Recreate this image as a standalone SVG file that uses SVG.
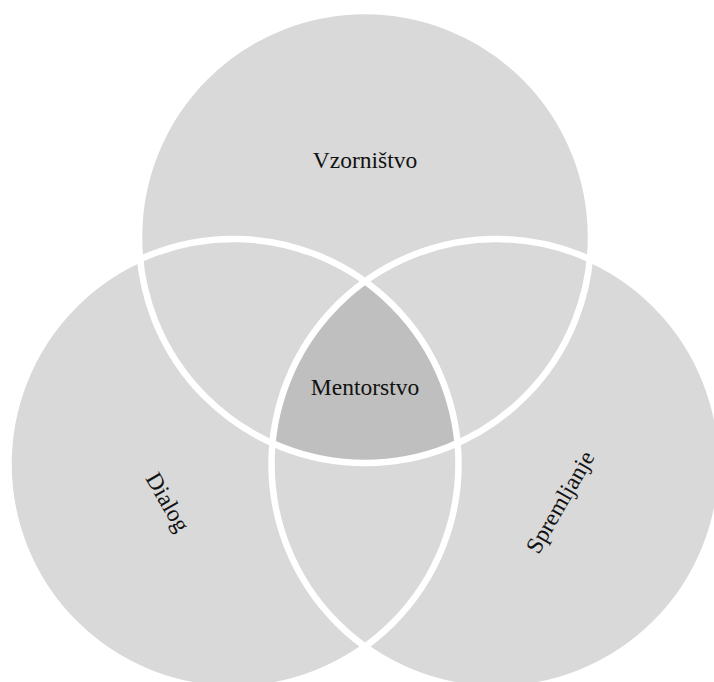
<svg xmlns="http://www.w3.org/2000/svg" width="714" height="682" viewBox="0 0 714 682">
  <style>
    .fill { fill: #d9d9d9; stroke: none; }
    .core { fill: #bfbfbf; stroke: none; }
    .outline { fill: none; stroke: #ffffff; stroke-width: 6.5; }
    .label { font-family: "Liberation Serif", "Times New Roman", serif; font-size: 23.5px; fill: #111111; text-anchor: middle; }
  </style>
  <rect width="714" height="682" fill="#ffffff"/>
  <g id="node-vzornistvo">
    <circle class="fill" cx="365" cy="237" r="226"/>
  </g>
  <g id="node-dialog">
    <circle class="fill" cx="233.5" cy="464" r="225"/>
  </g>
  <g id="node-spremljanje">
    <circle class="fill" cx="496.5" cy="464" r="225"/>
  </g>
  <g id="node-mentorstvo">
    <path class="core" d="M365,281.4 A225,225 0 0 0 272.5,443.2 A226,226 0 0 0 457.5,443.2 A225,225 0 0 0 365,281.4 Z"/>
  </g>
  <g id="outlines">
    <circle class="outline" cx="365" cy="237" r="226"/>
    <circle class="outline" cx="233.5" cy="464" r="225"/>
    <circle class="outline" cx="496.5" cy="464" r="225"/>
  </g>
  <g id="labels">
    <text class="label" x="365" y="168">Vzorništvo</text>
    <text class="label" x="365" y="395">Mentorstvo</text>
    <text class="label" transform="translate(168,502) rotate(60)" x="0" y="8">Dialog</text>
    <text class="label" transform="translate(560,502) rotate(-60)" x="0" y="8">Spremljanje</text>
  </g>
</svg>
